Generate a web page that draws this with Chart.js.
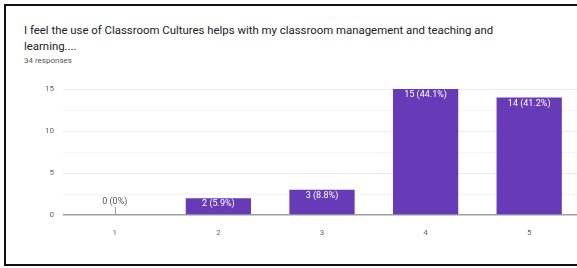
<!DOCTYPE html>
<html>
<head>
<meta charset="utf-8">
<script src="https://cdn.jsdelivr.net/npm/chart.js@4/dist/chart.umd.min.js"></script>
<style>
  html, body { margin: 0; padding: 0; background: #fff; overflow: hidden; width: 577px; height: 268px; }
  #frame { position: absolute; left: 4px; top: 4px; width: 573px; height: 258px; border: 2px solid #111; border-right: none; box-sizing: content-box; }
  #title { position: absolute; left: 24px; top: 22px; font-family: Roboto, "Noto Sans", sans-serif; font-size: 11.4px; line-height: 16px; color: #202124; white-space: nowrap; }
  #resp { position: absolute; left: 24px; top: 56px; font-family: Roboto, "Noto Sans", sans-serif; font-size: 8px; color: #555; }
  #wrap { position: absolute; left: 0; top: 0; width: 577px; height: 268px; overflow: hidden; }
</style>
</head>
<body>
<div id="frame"></div>
<div id="title">I feel the use of Classroom Cultures helps with my classroom management and teaching and<br>learning....</div>
<div id="resp">34 responses</div>
<div id="wrap"><canvas id="c" width="600" height="268" style="width:600px;height:268px;"></canvas></div>
<script>
const categories = ["1", "2", "3", "4", "5"];
const counts = [0, 2, 3, 15, 14];
const percentLabels = ["0%", "5.9%", "8.8%", "44.1%", "41.2%"];
const yTickLabels = [0, 5, 10, 15];

const barLabels = {
  id: 'barLabels',
  afterDatasetsDraw(chart) {
    const ctx = chart.ctx;
    const meta = chart.getDatasetMeta(0);
    const yScale = chart.scales.y;
    ctx.save();
    ctx.font = '9px Roboto, "Noto Sans", sans-serif';
    ctx.textAlign = 'center';
    ctx.textBaseline = 'middle';
    meta.data.forEach((bar, i) => {
      const txt = counts[i] + ' (' + percentLabels[i] + ')';
      if (counts[i] > 0) {
        ctx.fillStyle = '#ffffff';
        ctx.fillText(txt, bar.x, bar.y + 6);
      } else {
        const base = yScale.getPixelForValue(0);
        ctx.strokeStyle = '#9e9e9e';
        ctx.lineWidth = 1;
        ctx.beginPath();
        ctx.moveTo(Math.round(bar.x) + 0.5, base);
        ctx.lineTo(Math.round(bar.x) + 0.5, base - 8);
        ctx.stroke();
        ctx.fillStyle = '#555555';
        ctx.fillText(txt, bar.x, base - 13);
      }
    });
    ctx.restore();
  }
};

new Chart(document.getElementById('c'), {
  type: 'bar',
  data: {
    labels: categories,
    datasets: [{
      data: counts,
      backgroundColor: '#673ab7',
      barPercentage: 0.63,
      categoryPercentage: 1.0
    }]
  },
  options: {
    responsive: false,
    animation: false,
    devicePixelRatio: 1,
    layout: { padding: { left: 0, right: 19, top: 89, bottom: 0 } },
    plugins: { legend: { display: false }, tooltip: { enabled: false }, title: { display: false } },
    scales: {
      x: {
        grid: { display: false },
        border: { display: false },
        ticks: { color: '#666', font: { size: 8, family: 'Roboto, "Noto Sans", sans-serif' }, padding: 5 },
        afterFit(s) { s.height = 53; }
      },
      y: {
        min: 0, max: 15,
        grid: {
          drawTicks: false,
          color: (c) => c.tick.value === 0 ? '#9e9e9e' : (c.tick.value % 5 === 0 ? '#ebebeb' : '#f4f4f4'),
          lineWidth: (c) => c.tick.value === 0 ? 1.5 : 1
        },
        border: { display: false },
        ticks: {
          stepSize: 2.5,
          color: '#666',
          padding: 9,
          font: { size: 8, family: 'Roboto, "Noto Sans", sans-serif' },
          callback: (v) => yTickLabels.includes(v) ? String(v) : ''
        },
        afterFit(s) { s.width = 63; }
      }
    }
  },
  plugins: [barLabels]
});
</script>
</body>
</html>
